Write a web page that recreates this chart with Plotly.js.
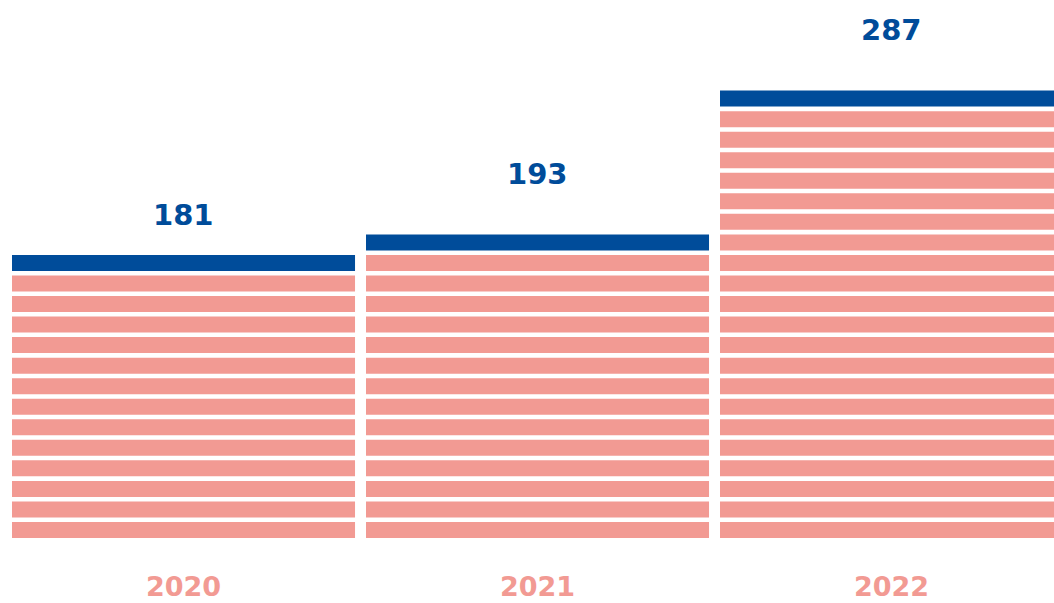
<!DOCTYPE html>
<html>
<head>
<meta charset="utf-8">
<script src="https://cdn.plot.ly/plotly-3.0.1.min.js"></script>
<style>html,body{margin:0;padding:0;background:#fff;}#chart{width:1054px;height:603px;}</style>
</head>
<body>
<div id="chart"></div>
<script>
const years = ['2020', '2021', '2022'];
const totals = [181, 193, 287];
const stripeCounts = [14, 15, 22];
const labelLift = [16, 37, 37];

const PINK = '#F29A93';
const BLUE = '#004C9A';
const stripeH = 0.78;

const pinkX = [], pinkBase = [], pinkY = [];
const blueX = [], blueBase = [], blueY = [];
years.forEach((yr, k) => {
  for (let i = 0; i < stripeCounts[k]; i++) {
    if (i === stripeCounts[k] - 1) {
      blueX.push(yr); blueBase.push(i); blueY.push(stripeH);
    } else {
      pinkX.push(yr); pinkBase.push(i); pinkY.push(stripeH);
    }
  }
});

const traces = [
  {type: 'bar', x: pinkX, y: pinkY, base: pinkBase, width: 0.969,
   marker: {color: PINK, line: {width: 0}}, hoverinfo: 'skip', showlegend: false},
  {type: 'bar', x: blueX, y: blueY, base: blueBase, width: 0.969,
   marker: {color: BLUE, line: {width: 0}}, hoverinfo: 'skip', showlegend: false}
];

const annotations = years.map((yr, k) => ({
  x: k, y: stripeCounts[k], xref: 'x', yref: 'y',
  text: '<b>' + totals[k] + '</b>', showarrow: false,
  xanchor: 'center', yanchor: 'bottom', yshift: labelLift[k],
  font: {family: 'DejaVu Sans', size: 29, color: BLUE}
}));

const layout = {
  width: 1054, height: 603,
  margin: {l: 0, r: 0, t: 0, b: 65},
  paper_bgcolor: '#fff', plot_bgcolor: '#fff',
  barmode: 'overlay',
  xaxis: {type: 'category', categoryorder: 'array', categoryarray: years,
          range: [-0.5184, 2.459], showgrid: false, zeroline: false, showline: false,
          ticks: '', ticklabelstandoff: 30,
          tickfont: {family: 'DejaVu Sans', size: 27, color: PINK, weight: 'bold'}},
  yaxis: {range: [0, 26.19], showgrid: false, zeroline: false, showline: false,
          showticklabels: false, ticks: ''},
  annotations: annotations,
  showlegend: false
};

Plotly.newPlot('chart', traces, layout, {displayModeBar: false, staticPlot: true});
</script>
</body>
</html>
